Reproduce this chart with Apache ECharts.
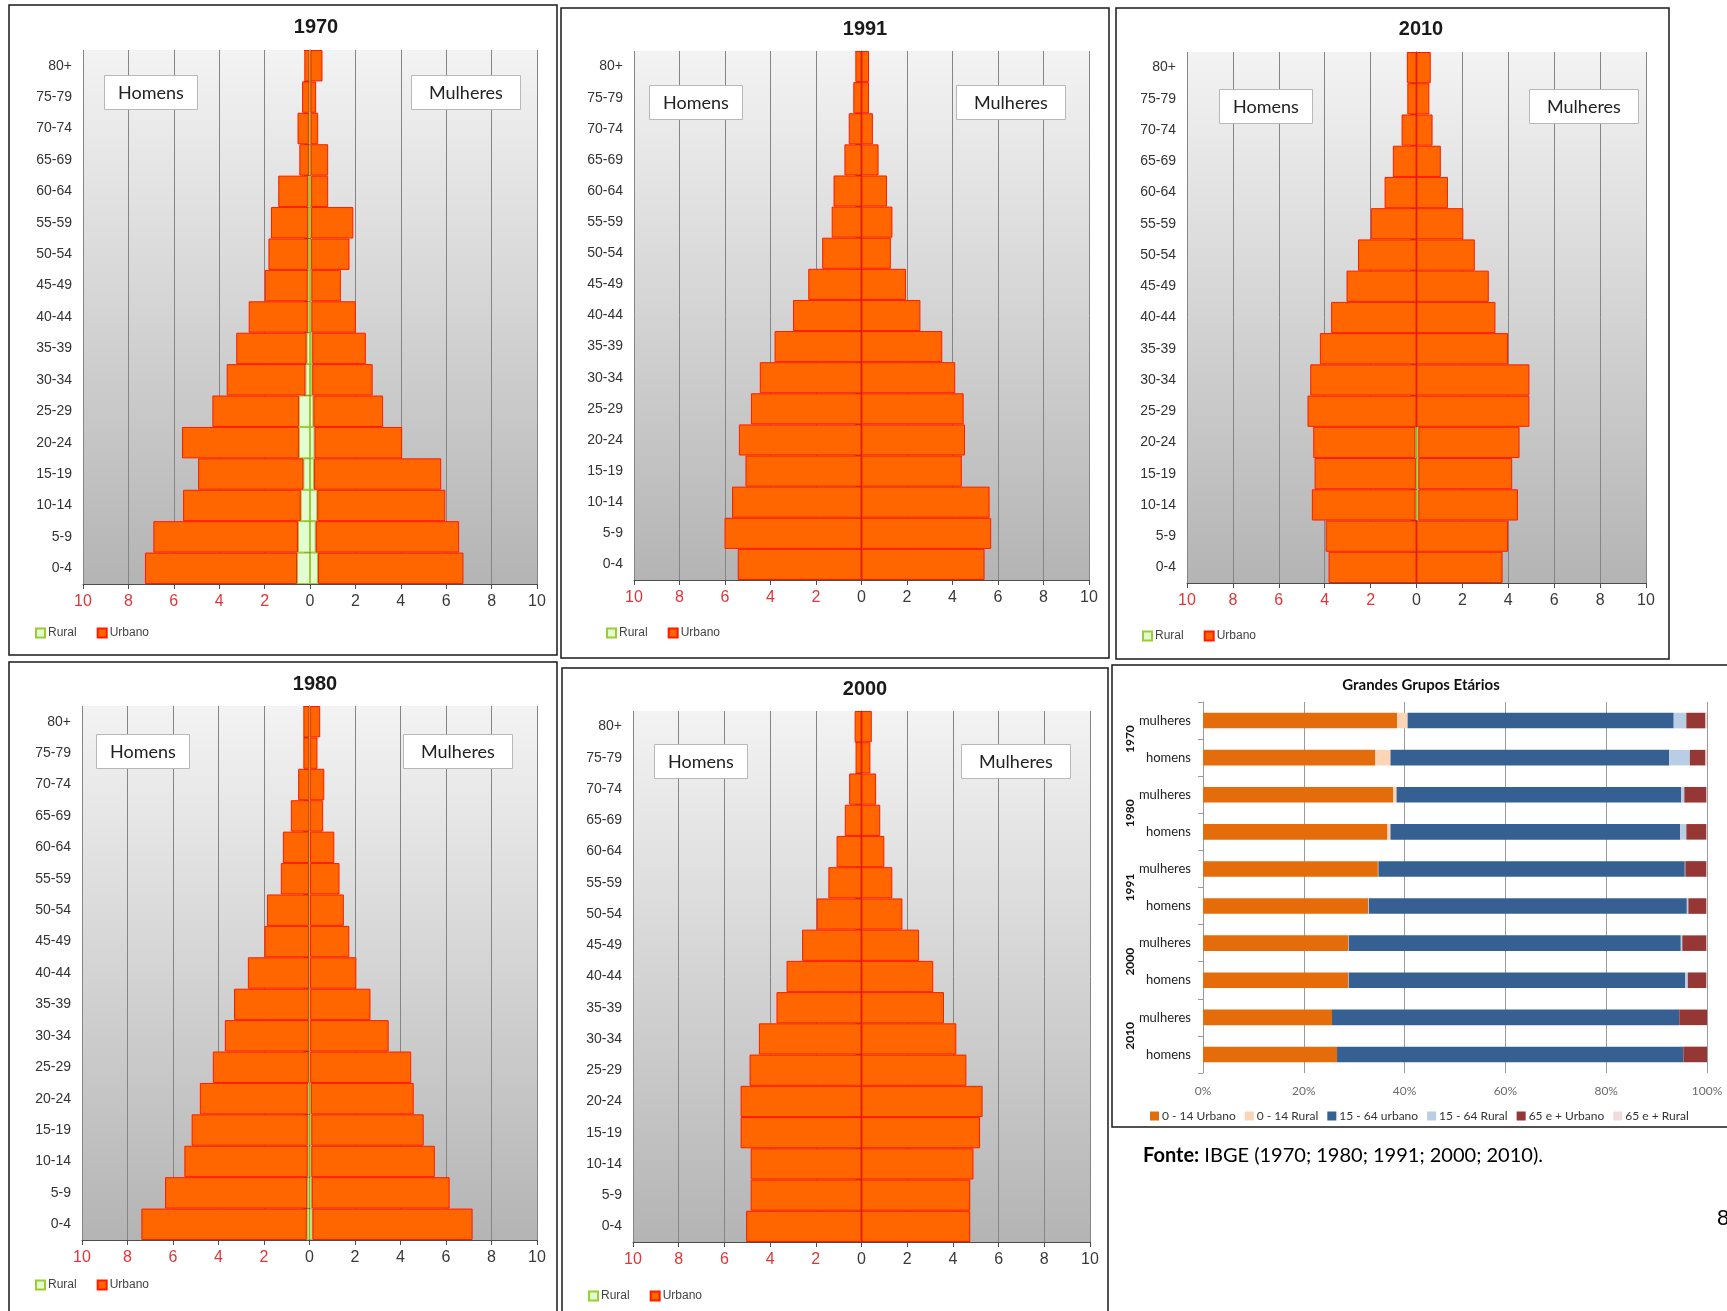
<!DOCTYPE html>
<html>
<head>
<meta charset="utf-8">
<script src="https://cdn.jsdelivr.net/npm/echarts@6/dist/echarts.min.js"></script>
<style>
  html, body { margin: 0; padding: 0; background: #ffffff; }
  #chart { width: 1727px; height: 1311px; }
</style>
</head>
<body>
<div id="chart"></div>
<script>
// Age groups, bottom (youngest) to top (oldest)
const AGES = ['0-4','5-9','10-14','15-19','20-24','25-29','30-34','35-39','40-44','45-49','50-54','55-59','60-64','65-69','70-74','75-79','80+'];

// Percent of population per age group and sex, split rural / urbano
const ruralHomens1970    = [0.57,0.53,0.41,0.29,0.49,0.49,0.20,0.15,0.10,0.10,0.08,0.08,0.08,0.05,0.05,0.03,0.03];
const urbanoHomens1970   = [6.70,6.37,5.18,4.64,5.15,3.81,3.47,3.10,2.60,1.89,1.75,1.64,1.32,0.42,0.50,0.32,0.22];
const ruralMulheres1970  = [0.35,0.25,0.32,0.18,0.20,0.15,0.10,0.10,0.06,0.06,0.05,0.05,0.05,0.03,0.03,0.02,0.02];
const urbanoMulheres1970 = [6.41,6.32,5.64,5.60,3.86,3.07,2.66,2.36,1.96,1.30,1.69,1.86,0.75,0.77,0.33,0.25,0.53];

const ruralHomens1980    = [0.12,0.10,0.08,0.08,0.08,0.03,0.03,0.03,0.02,0.02,0.02,0.02,0.02,0.01,0.01,0.01,0.01];
const urbanoHomens1980   = [7.27,6.25,5.42,5.10,4.74,4.22,3.69,3.29,2.69,1.96,1.85,1.24,1.15,0.81,0.49,0.26,0.26];
const ruralMulheres1980  = [0.13,0.10,0.08,0.08,0.06,0.03,0.03,0.03,0.02,0.02,0.02,0.02,0.02,0.01,0.01,0.01,0.01];
const urbanoMulheres1980 = [7.04,6.06,5.43,4.94,4.52,4.44,3.45,2.65,2.04,1.73,1.49,1.30,1.07,0.59,0.64,0.34,0.46];

const ruralHomens1991    = [0,0,0,0,0,0,0,0,0,0,0,0,0,0,0,0,0];
const urbanoHomens1991   = [5.44,6.02,5.69,5.10,5.39,4.86,4.47,3.82,3.01,2.34,1.73,1.31,1.23,0.75,0.56,0.36,0.27];
const ruralMulheres1991  = [0,0,0,0,0,0,0,0,0,0,0,0,0,0,0,0,0];
const urbanoMulheres1991 = [5.41,5.70,5.63,4.41,4.55,4.49,4.12,3.55,2.59,1.96,1.29,1.36,1.12,0.75,0.50,0.33,0.33];

const ruralHomens2000    = [0,0,0,0,0,0,0,0,0,0,0,0,0,0,0,0,0];
const urbanoHomens2000   = [5.05,4.85,4.85,5.29,5.29,4.90,4.49,3.72,3.28,2.60,1.96,1.45,1.09,0.73,0.54,0.26,0.30];
const ruralMulheres2000  = [0,0,0,0,0,0,0,0,0,0,0,0,0,0,0,0,0];
const urbanoMulheres2000 = [4.76,4.76,4.90,5.19,5.30,4.59,4.15,3.61,3.14,2.52,1.79,1.35,1.00,0.82,0.64,0.39,0.45];

const ruralHomens2010    = [0,0,0.04,0.03,0.05,0,0,0,0,0,0,0,0,0,0,0,0];
const urbanoHomens2010   = [3.83,3.96,4.52,4.41,4.45,4.75,4.63,4.21,3.72,3.05,2.55,1.99,1.39,1.03,0.65,0.40,0.42];
const ruralMulheres2010  = [0,0,0.08,0.08,0.08,0,0,0,0,0,0,0,0,0,0,0,0];
const urbanoMulheres2010 = [3.75,3.99,4.34,4.09,4.41,4.92,4.92,3.99,3.44,3.15,2.54,2.04,1.37,1.06,0.70,0.56,0.62];

// Pyramid axis ticks
const PYR_MIN = -10, PYR_MAX = 10, PYR_STEP = 2;

// Broad age groups (% of each sex), top to bottom
const GG_ROWS  = ['mulheres','homens','mulheres','homens','mulheres','homens','mulheres','homens','mulheres','homens'];
const GG_YEARS = ['1970','1980','1991','2000','2010'];
const gg014Urbano  = [38.5,34.2,37.7,36.6,34.7,32.8,28.8,28.8,25.6,26.6];
const gg014Rural   = [2.1,3.0,0.7,0.6,0.1,0.1,0.1,0.1,0,0];
const gg1564Urbano = [52.8,55.3,56.5,57.5,60.8,63.1,65.9,66.8,68.9,68.7];
const gg1564Rural  = [2.5,4.1,0.6,1.2,0.1,0.3,0.3,0.5,0,0];
const gg65Urbano   = [3.8,3.1,4.4,4.0,4.2,3.6,4.8,3.7,5.5,4.7];
const gg65Rural    = [0.3,0.3,0.1,0.1,0.1,0.1,0.1,0.1,0,0];

// ---- layout of the six panels ----
const PYRAMIDS = [
  { year: '1970', box: [9, 5, 548, 650],   grid: [83, 50, 454, 534],  titleX: 316, titleY: 17,  homens: [104, 75],  mulheres: [411, 75],  legend: [35, 627],
    rh: ruralHomens1970, uh: urbanoHomens1970, rm: ruralMulheres1970, um: urbanoMulheres1970 },
  { year: '1991', box: [561, 8, 548, 650], grid: [634, 51, 455, 529], titleX: 865, titleY: 19,  homens: [649, 85],  mulheres: [956, 85],  legend: [606, 627],
    rh: ruralHomens1991, uh: urbanoHomens1991, rm: ruralMulheres1991, um: urbanoMulheres1991 },
  { year: '2010', box: [1116, 8, 553, 651], grid: [1187, 52, 459, 531], titleX: 1421, titleY: 19, homens: [1219, 89], mulheres: [1529, 89], legend: [1142, 630],
    rh: ruralHomens2010, uh: urbanoHomens2010, rm: ruralMulheres2010, um: urbanoMulheres2010 },
  { year: '1980', box: [9, 662, 548, 660], grid: [82, 706, 455, 534], titleX: 315, titleY: 674, homens: [96, 734],  mulheres: [403, 734], legend: [35, 1279],
    rh: ruralHomens1980, uh: urbanoHomens1980, rm: ruralMulheres1980, um: urbanoMulheres1980 },
  { year: '2000', box: [562, 668, 546, 660], grid: [633, 711, 457, 531], titleX: 865, titleY: 679, homens: [654, 744], mulheres: [961, 744], legend: [588, 1290],
    rh: ruralHomens2000, uh: urbanoHomens2000, rm: ruralMulheres2000, um: urbanoMulheres2000 }
];
const GG = { box: [1112, 665, 640, 462], grid: [1203, 702, 504, 371], titleX: 1421, titleY: 678, legend: [1150, 1110] };

const ARIAL = "'Liberation Sans', Arial, sans-serif";
const CALIBRI = "Lato, 'Open Sans', sans-serif";

const RURAL_STYLE  = { color: '#e3fcd2', borderColor: '#9acd32', borderWidth: 1 };
const URBANO_STYLE = { color: '#ff6600', borderColor: '#ff1a00', borderWidth: 1 };

const grids = [], xAxes = [], yAxes = [], series = [], titles = [], legends = [], graphics = [];

// zero-width segments are left out so they draw no outline
const seg = (arr, sign) => arr.map(v => (v === 0 ? '-' : sign * v));

PYRAMIDS.forEach((p, i) => {
  grids.push({
    left: p.grid[0], top: p.grid[1], width: p.grid[2], height: p.grid[3],
    containLabel: false, outerBoundsMode: 'none',
    show: true, borderWidth: 0,
    backgroundColor: { type: 'linear', x: 0, y: 0, x2: 0, y2: 1,
      colorStops: [{ offset: 0, color: '#f3f3f3' }, { offset: 1, color: '#b4b4b4' }] }
  });
  xAxes.push({
    type: 'value', gridIndex: i, min: PYR_MIN, max: PYR_MAX, interval: PYR_STEP,
    axisLine: { show: true, onZero: false, lineStyle: { color: '#4d4d4d', width: 1 } },
    axisTick: { show: true, length: 5, lineStyle: { color: '#4d4d4d' } },
    splitLine: { show: true, lineStyle: { color: '#858585', width: 1 } },
    axisLabel: {
      margin: 10,
      formatter: v => (v < 0 ? '{r|' + (-v) + '}' : '{k|' + v + '}'),
      rich: {
        r: { color: '#e0363a', fontSize: 16, fontFamily: ARIAL },
        k: { color: '#3a3a3a', fontSize: 16, fontFamily: ARIAL }
      }
    }
  });
  yAxes.push({
    type: 'category', gridIndex: i, data: AGES, boundaryGap: true,
    axisLine: { show: true, lineStyle: { color: '#4d4d4d', width: 1 } },
    axisTick: { show: true, length: 6, alignWithLabel: false, lineStyle: { color: '#4d4d4d' } },
    splitLine: { show: false },
    axisLabel: { color: '#333', fontSize: 14, fontFamily: ARIAL, margin: 11, interval: 0 }
  });
  const stack = 'pyr' + p.year;
  const common = { type: 'bar', xAxisIndex: i, yAxisIndex: i, stack: stack, barCategoryGap: 0, animation: false, silent: true };
  series.push(Object.assign({}, common, { name: 'Rural',  data: seg(p.rh, -1), itemStyle: RURAL_STYLE }));
  series.push(Object.assign({}, common, { name: 'Urbano', data: seg(p.uh, -1), itemStyle: URBANO_STYLE }));
  series.push(Object.assign({}, common, { name: 'Rural',  data: seg(p.rm, 1),  itemStyle: RURAL_STYLE }));
  series.push(Object.assign({}, common, { name: 'Urbano', data: seg(p.um, 1),  itemStyle: URBANO_STYLE }));

  titles.push({ text: p.year, left: p.titleX, top: p.titleY, textAlign: 'center', padding: 0,
    textStyle: { fontFamily: ARIAL, fontWeight: 'bold', fontSize: 20, color: '#1a1a1a' } });
  titles.push({ text: 'Homens', left: p.homens[0], top: p.homens[1], padding: [9, 14, 8, 14],
    backgroundColor: '#ffffff', borderColor: '#b8b8b8', borderWidth: 1,
    textStyle: { fontFamily: CALIBRI, fontWeight: 'normal', fontSize: 18, color: '#222' } });
  titles.push({ text: 'Mulheres', left: p.mulheres[0], top: p.mulheres[1], padding: [9, 18, 8, 18],
    backgroundColor: '#ffffff', borderColor: '#b8b8b8', borderWidth: 1,
    textStyle: { fontFamily: CALIBRI, fontWeight: 'normal', fontSize: 18, color: '#222' } });

  legends.push({
    data: ['Rural', 'Urbano'], left: p.legend[0], top: p.legend[1], orient: 'horizontal',
    icon: 'rect', itemWidth: 9, itemHeight: 9, itemGap: 20, selectedMode: false, padding: 0,
    textStyle: { fontFamily: ARIAL, fontSize: 12, color: '#444', padding: [0, 0, 0, -2] }
  });

  graphics.push({ type: 'rect', silent: true, z: 100,
    shape: { x: p.box[0], y: p.box[1], width: p.box[2], height: p.box[3] },
    style: { fill: 'none', stroke: '#1a1a1a', lineWidth: 1.5 } });
});

// ---- Grandes Grupos Etários ----
const gi = PYRAMIDS.length;
grids.push({ left: GG.grid[0], top: GG.grid[1], width: GG.grid[2], height: GG.grid[3],
  containLabel: false, outerBoundsMode: 'none', show: false });
xAxes.push({
  type: 'value', gridIndex: gi, min: 0, max: 100, interval: 20,
  axisLine: { show: false }, axisTick: { show: false },
  splitLine: { show: true, lineStyle: { color: '#9a9a9a', width: 1 } },
  axisLabel: { formatter: '{value}%', color: '#6a6a6a', fontSize: 12, fontFamily: CALIBRI, margin: 12 }
});
yAxes.push({
  type: 'category', gridIndex: gi, data: GG_ROWS, inverse: true,
  axisLine: { show: true, lineStyle: { color: '#9a9a9a' } },
  axisTick: { show: true, length: 5, alignWithLabel: false, lineStyle: { color: '#9a9a9a' } },
  axisLabel: { color: '#222', fontSize: 13, fontFamily: CALIBRI, margin: 12, interval: 0 }
});
yAxes.push({
  type: 'category', gridIndex: gi, data: GG_YEARS, inverse: true, position: 'left',
  axisLine: { show: false }, axisTick: { show: false },
  axisLabel: { rotate: 90, color: '#111', fontSize: 12, fontWeight: 'bold', fontFamily: CALIBRI, margin: 67, interval: 0 }
});
const ggSeries = [
  ['0 - 14 Urbano', gg014Urbano,  '#e46c0a'],
  ['0 - 14 Rural',  gg014Rural,   '#fbd5b5'],
  ['15 - 64 urbano', gg1564Urbano, '#376092'],
  ['15 - 64 Rural', gg1564Rural,  '#b9cde5'],
  ['65 e + Urbano', gg65Urbano,   '#953735'],
  ['65 e + Rural',  gg65Rural,    '#f2dcdb']
];
ggSeries.forEach(([name, data, color]) => {
  series.push({ type: 'bar', name, data, xAxisIndex: gi, yAxisIndex: gi, stack: 'gg',
    barCategoryGap: '58%', animation: false, silent: true, itemStyle: { color } });
});
titles.push({ text: 'Grandes Grupos Etários', left: GG.titleX, top: GG.titleY, textAlign: 'center', padding: 0,
  textStyle: { fontFamily: CALIBRI, fontWeight: 'bold', fontSize: 15, color: '#111' } });
legends.push({
  data: ggSeries.map(s => s[0]), left: GG.legend[0], top: GG.legend[1], icon: 'rect',
  itemWidth: 9, itemHeight: 9, itemGap: 9, selectedMode: false, padding: 0,
  textStyle: { fontFamily: CALIBRI, fontSize: 12, color: '#333', padding: [0, 0, 0, -2] }
});
graphics.push({ type: 'rect', silent: true, z: 100,
  shape: { x: GG.box[0], y: GG.box[1], width: GG.box[2], height: GG.box[3] },
  style: { fill: 'none', stroke: '#1a1a1a', lineWidth: 1.5 } });

// source note and page number
titles.push({ text: '{b|Fonte:} {n|IBGE (1970; 1980; 1991; 2000; 2010).}', left: 1143, top: 1146, padding: 0,
  textStyle: { fontWeight: 'normal', fontFamily: CALIBRI, fontSize: 20, color: '#000', rich: {
    b: { fontFamily: CALIBRI, fontWeight: 'bold', fontSize: 20, color: '#000' },
    n: { fontFamily: CALIBRI, fontWeight: 'normal', fontSize: 20, color: '#000' } } } });
graphics.push({ type: 'text', silent: true, x: 1717, y: 1208,
  style: { text: '8', font: "22px 'Liberation Sans', Arial", fill: '#000' } });

const chart = echarts.init(document.getElementById('chart'), null, { renderer: 'canvas' });
chart.setOption({
  animation: false,
  backgroundColor: '#ffffff',
  title: titles,
  legend: legends,
  grid: grids,
  xAxis: xAxes,
  yAxis: yAxes,
  series: series,
  graphic: graphics
});
</script>
</body>
</html>
